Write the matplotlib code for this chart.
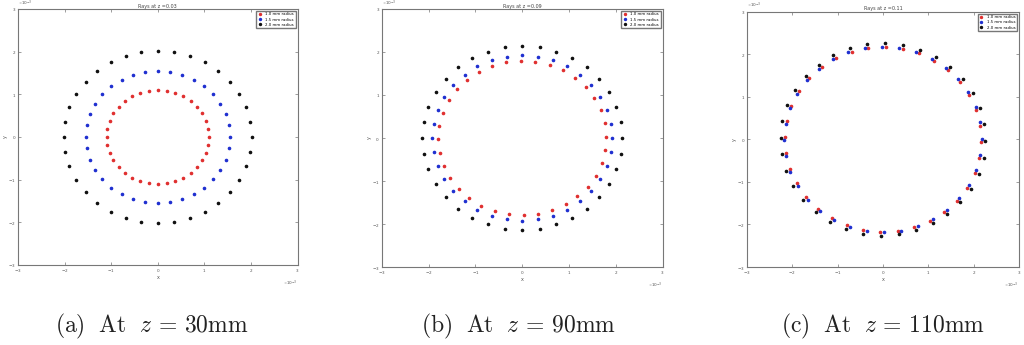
import numpy as np
import matplotlib
matplotlib.use('Agg')
from matplotlib import pyplot as plt
from matplotlib.ticker import ScalarFormatter

plt.rcParams['mathtext.fontset'] = 'cm'

# Data: ray positions at three z planes (units of 1e-3 m)
angles_deg = [0, 10, 20, 30, 40, 50, 60, 70, 80, 90, 100, 110, 120, 130, 140, 150, 160, 170,
              180, 190, 200, 210, 220, 230, 240, 250, 260, 270, 280, 290, 300, 310, 320, 330, 340, 350]
series_labels = ['1.0 mm radius', '1.5 mm radius', '2.0 mm radius']
series_colors = ['#e03030', '#2030d0', '#111111']

titles = ['Rays at z =0.03', 'Rays at z =0.09', 'Rays at z =0.11']
captions = [r'$\mathrm{(a)\ \ At}\ \ z\, =\, 30\mathrm{mm}$',
            r'$\mathrm{(b)\ \ At}\ \ z\, =\, 90\mathrm{mm}$',
            r'$\mathrm{(c)\ \ At}\ \ z\, =\, 110\mathrm{mm}$']

# radius of each ring (x 1e-3) per panel: red, blue, black
radii_a = [1.10, 1.55, 2.02]
radii_b = [1.80, 1.92, 2.14]
radii_c = [2.17, 2.18, 2.26]
# small angular offsets (deg) seen per ring
offsets_a = [0.0, 0.0, 0.0]
offsets_b = [1.0, 0.0, 0.0]
offsets_c = [-1.5, 0.5, -1.0]

panels = [(radii_a, offsets_a), (radii_b, offsets_b), (radii_c, offsets_c)]

axes_rects = [[0.0176, 0.232, 0.273, 0.742],
              [0.373, 0.226, 0.274, 0.748],
              [0.7295, 0.226, 0.2656, 0.740]]
caption_x = [152, 518, 883]

fig = plt.figure(figsize=(10.24, 3.45), dpi=100)

for i, (radii, offs) in enumerate(panels):
    ax = fig.add_axes(axes_rects[i])
    for r, off, col, lab in zip(radii, offs, series_colors, series_labels):
        th = np.radians(np.array(angles_deg) + off)
        ax.plot(r * 1e-3 * np.cos(th), r * 1e-3 * np.sin(th), '.', color=col,
                markersize=3.2, label=lab)
    ax.set_xlim(-3e-3, 3e-3)
    ax.set_ylim(-3e-3, 3e-3)
    ax.set_xticks(np.array([-3, -2, -1, 0, 1, 2, 3]) * 1e-3)
    ax.set_yticks(np.array([-3, -2, -1, 0, 1, 2, 3]) * 1e-3)
    for axis in (ax.xaxis, ax.yaxis):
        fmt = ScalarFormatter(useMathText=True)
        fmt.set_powerlimits((0, 0))
        axis.set_major_formatter(fmt)
        axis.get_offset_text().set_fontsize(3)
        axis.get_offset_text().set_color('#555555')
    ax.tick_params(direction='in', top=True, right=True, labelsize=3, length=2,
                   width=0.5, colors='#777777', labelcolor='#555555', pad=1.5)
    for s in ax.spines.values():
        s.set_color('#777777')
        s.set_linewidth(0.8)
    ax.set_title(titles[i], fontsize=3.5, pad=1.0, color='#444444')
    ax.set_xlabel('x', fontsize=3.5, labelpad=0.5, color='#555555')
    ax.set_ylabel('y', fontsize=3.5, labelpad=0.5, color='#555555')
    ax.legend(loc='upper right', fontsize=2.8, markerscale=0.9, handlelength=1.2,
              borderpad=0.4, labelspacing=0.3, fancybox=False, edgecolor='#777777',
              framealpha=1)
    fig.text(caption_x[i] / 1024, 1 - 326 / 345, captions[i], fontsize=17,
             ha='center', va='center', color='#222222')

fig.savefig('out.png', dpi=100)
